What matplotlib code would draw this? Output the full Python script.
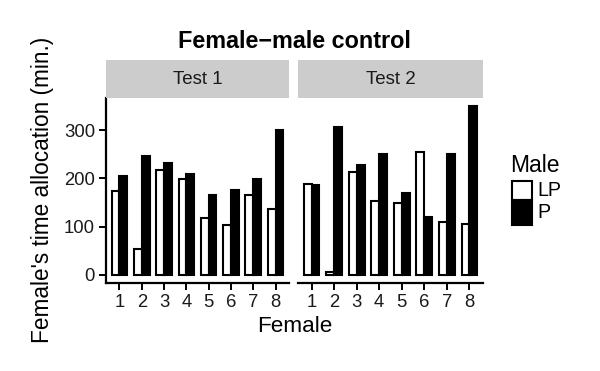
import matplotlib
matplotlib.use("Agg")
import matplotlib.pyplot as plt
import numpy as np
from matplotlib.patches import Rectangle

plt.rcParams['font.family'] = ['Liberation Sans', 'DejaVu Sans']

females = [1, 2, 3, 4, 5, 6, 7, 8]
panels = ["Test 1", "Test 2"]
lp_test1 = [174, 54, 217, 198, 117, 103, 165, 137]
p_test1 = [205, 246, 232, 209, 165, 177, 199, 301]
lp_test2 = [189, 5, 214, 153, 148, 255, 109, 106]
p_test2 = [186, 307, 228, 250, 169, 119, 250, 350]
yticks = [0, 100, 200, 300]

fig = plt.figure(figsize=(6, 3.71), dpi=100)
W, H = 600, 371

def fx(px):
    return px / W

def fy(py):
    return 1 - py / H

panel_px = [(106, 289), (298, 483)]
top_px, bot_px = 98, 283
strip_top = 60

data = [(lp_test1, p_test1), (lp_test2, p_test2)]
ymax = max(max(p_test1), max(p_test2), max(lp_test1), max(lp_test2))
ylim = (-0.05 * ymax, 1.05 * ymax)
w = 0.35
for i, ((l, r), (lp, p)) in enumerate(zip(panel_px, data)):
    ax = fig.add_axes([fx(l), fy(bot_px), fx(r) - fx(l), fy(top_px) - fy(bot_px)])
    x = np.array(females)
    ax.bar(x - w / 2, lp, width=w, facecolor='white', edgecolor='black', linewidth=1.5)
    ax.bar(x + w / 2, p, width=w, facecolor='black', edgecolor='black', linewidth=1.5)
    ax.set_xlim(0.4, 8.6)
    ax.set_ylim(*ylim)
    ax.set_xticks(females)
    ax.set_xticklabels([str(f) for f in females], fontsize=13.3, color='#1a1a1a')
    for s in ['top', 'right']:
        ax.spines[s].set_visible(False)
    ax.spines['bottom'].set_linewidth(1.6)
    ax.spines['left'].set_linewidth(1.6)
    ax.tick_params(axis='both', width=1.4, length=5, color='black', pad=3)
    if i == 0:
        ax.set_yticks(yticks)
        ax.set_yticklabels([str(t) for t in yticks], fontsize=13.3, color='#1a1a1a')
    else:
        ax.spines['left'].set_visible(False)
        ax.set_yticks([])
    # strip
    fig.patches.append(Rectangle((fx(l), fy(top_px)), fx(r) - fx(l), fy(strip_top) - fy(top_px),
                                 transform=fig.transFigure, facecolor='#cccccc', edgecolor='none'))
    fig.text((fx(l) + fx(r)) / 2, (fy(top_px) + fy(strip_top)) / 2, panels[i],
             ha='center', va='center', fontsize=13.5, color='#1a1a1a')

fig.text((fx(106) + fx(483)) / 2, fy(42), "Female\u2212male control", ha='center', va='center',
         fontsize=16.8, fontweight='bold')
fig.text((fx(106) + fx(483)) / 2, fy(326), "Female", ha='center', va='center', fontsize=16.2)
fig.text(fx(42), fy(190), "Female's time allocation (min.)", ha='center', va='center',
         rotation=90, fontsize=16.3)

# legend
fig.text(fx(510), fy(165), "Male", ha='left', va='center', fontsize=16.5)
fig.patches.append(Rectangle((fx(512), fy(200)), fx(20), fy(181) - fy(200), transform=fig.transFigure,
                             facecolor='white', edgecolor='black', linewidth=1.5))
fig.patches.append(Rectangle((fx(512), fy(225)), fx(20), fy(200) - fy(225), transform=fig.transFigure,
                             facecolor='black', edgecolor='black', linewidth=1.5))
fig.text(fx(537), fy(191), "LP", ha='left', va='center', fontsize=14.1)
fig.text(fx(537), fy(213), "P", ha='left', va='center', fontsize=14.1)

fig.savefig("out.png", dpi=100)
